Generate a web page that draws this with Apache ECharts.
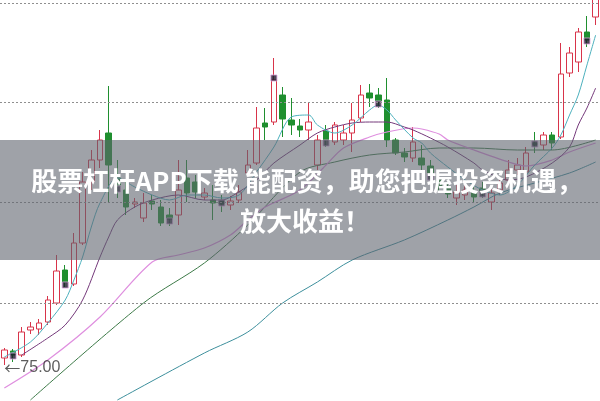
<!DOCTYPE html>
<html><head><meta charset="utf-8">
<script src="https://cdn.jsdelivr.net/npm/echarts@6/dist/echarts.min.js"></script>
<style>html,body{margin:0;padding:0;background:#fff}#c{width:600px;height:401px}</style>
</head><body><div id="c"></div>
<script>
const categories = ['1','2','3','4','5','6','7','8','9','10','11','12','13','14','15','16','17','18','19','20','21','22','23','24','25','26','27','28','29','30','31','32','33','34','35','36','37','38','39','40','41','42','43','44','45','46','47','48','49','50','51','52','53','54','55','56','57','58','59','60','61','62','63','64','65','66','67','68','69'];
// [open, close, low, high]
const ohlc = [
[75.7,76.5,75.0,76.7],[76.4,76.0,75.3,76.6],[76.0,78.3,75.8,78.8],[78.5,78.8,78.1,79.3],[78.6,79.2,78.0,79.6],
[79.3,81.5,79.0,81.9],[81.2,84.4,81.0,86.0],[84.5,83.3,82.8,85.0],[83.1,87.2,82.9,88.2],[87.2,93.3,87.0,94.3],
[93.3,95.5,92.5,96.5],[95.5,97.5,94.7,98.5],[98.2,95.0,91.2,102.9],[93.7,93.0,91.7,95.5],[92.5,90.8,90.0,93.5],
[91.1,91.3,90.7,91.7],[89.7,91.2,89.3,92.2],[91.4,91.1,90.5,92.0],[90.8,89.2,88.9,91.5],[90.0,89.6,88.9,90.7],
[90.0,92.5,89.0,95.5],[93.7,92.2,91.3,95.5],[93.3,92.3,91.7,94.0],[91.8,92.2,91.5,92.7],[91.5,91.2,89.5,93.0],
[91.5,91.1,90.3,92.0],[91.0,91.4,90.5,91.9],[91.5,92.3,91.2,93.0],[94.2,95.0,93.9,96.5],[95.2,98.7,95.0,100.8],
[99.2,98.8,97.5,100.7],[99.3,103.5,99.0,105.7],[102.0,99.6,97.8,102.8],[99.5,99.0,98.0,101.7],[98.9,98.5,97.8,99.6],
[98.5,99.3,97.5,101.3],[95.0,97.5,94.5,98.0],[98.4,97.5,96.8,99.0],[97.3,99.0,97.0,99.3],[97.5,98.2,97.0,99.0],
[98.2,99.5,96.3,101.2],[99.7,102.0,99.3,103.0],[102.2,101.7,100.8,103.1],[102.0,101.4,100.7,102.7],[101.5,97.5,96.8,103.7],
[97.5,96.2,96.0,97.7],[96.2,95.8,95.3,96.7],[95.7,97.3,95.3,98.8],[95.7,95.0,94.5,97.0],[94.9,94.2,93.5,95.5],
[93.5,92.9,92.3,94.0],[92.7,92.1,91.7,93.3],[91.7,92.3,91.0,93.0],[92.0,92.5,91.5,93.0],[92.3,91.8,91.3,92.9],
[92.7,92.3,91.7,93.3],[91.3,92.2,90.5,92.7],[92.5,93.2,92.0,93.7],[93.5,94.5,93.2,95.5],[94.5,95.0,94.0,95.7],
[94.3,96.2,94.0,96.8],[97.2,97.0,96.2,98.3],[97.0,98.0,96.5,98.3],[98.0,97.2,96.5,98.3],[97.8,104.1,97.6,107.2],
[104.2,106.2,103.8,106.8],[105.3,108.3,104.3,108.7],[108.3,107.5,106.8,109.9],[109.8,112.0,109.0,113.0]
];
// moving averages: [candle index, price]
const ma5 = [[0,75.8],[3,77.3],[5,79.2],[7,81.5],[8,83.5],[9,85.8],[10,88.8],[11,91.2],[13,93.7],[15,92.8],[17,92.0],[19,91.5],[21,92.0],[23,92.0],[25,91.7],[27,92.0],[29,94.3],[31,96.8],[33,99.8],[35,100.0],[36,99.0],[38,98.2],[40,99.0],[42,100.5],[43,101.0],[44,100.5],[45,99.5],[47,97.7],[48,97.2],[49,96.2],[51,94.8],[53,93.5],[55,92.5],[57,92.0],[59,93.0],[61,95.0],[63,96.7],[64,98.0],[65,100.0],[66,102.0],[67,105.0],[68,108.0]];
const ma10 = [[2,76.0],[5,77.7],[7,79.0],[9,81.5],[11,85.8],[12,87.8],[13,89.5],[15,90.8],[17,91.5],[20,92.0],[23,91.5],[25,91.5],[26,91.8],[29,93.5],[31,95.2],[34,97.0],[36,98.2],[38,98.8],[40,99.2],[42,99.3],[44,99.3],[46,98.8],[47,98.5],[49,97.7],[51,96.8],[54,95.2],[55,94.5],[58,93.5],[60,93.8],[63,95.2],[65,96.8],[66,99.0],[67,100.7],[68,102.7]];
const ma20 = [[0,72.7],[5,75.5],[11,79.8],[17,85.3],[20,86.0],[23,86.7],[26,88.0],[28,89.5],[30,90.8],[34,92.5],[37,95.0],[39,96.7],[42,97.8],[44,98.3],[47,98.7],[48,98.6],[50,98.1],[51,97.5],[54,96.5],[58,95.3],[60,94.9],[63,95.5],[65,96.3],[68,97.2]];
const ma30 = [[3,71.5],[16,81.2],[23,85.2],[28,89.0],[34,94.3],[38,95.3],[42,96.0],[46,96.3],[50,96.7],[54,96.7],[59,96.5],[63,96.5],[68,97.5]];
const ma60 = [[13,71.5],[23,76.2],[28,78.3],[32,81.2],[36,83.3],[40,85.5],[46,87.5],[51,89.5],[54,90.8],[57,92.2],[61,93.2],[65,94.2],[68,95.3]];
const gridLevels = [111.2, 101.3, 91.3, 81.2];
const markerIdx = [1,7,13,19,25,31,37,43,49,55,61,67];
const markerVal = [75.9,83.0,92.6,89.4,91.2,103.7,97.2,101.1,93.8,92.1,97.1,107.4];

let lowIdx = 0;
ohlc.forEach((d, i) => { if (d[2] < ohlc[lowIdx][2]) lowIdx = i; });

const chart = echarts.init(document.getElementById('c'));
const lineS = (data, color, w) => ({type:'line', data, symbol:'none', smooth:0.3, lineStyle:{color, width:w||1}, z:3, silent:true});
chart.setOption({
  animation:false,
  grid:{left:-1.4, right:-0.3, top:0, bottom:0},
  xAxis:{type:'category', data:categories, boundaryGap:true, show:false},
  yAxis:{type:'value', min:71.4, max:111.5, show:false, splitLine:{show:false}},
  series:[
    {type:'candlestick', data:ohlc, barWidth:6, z:2,
     itemStyle:{color:'#ffffff', color0:'#1f8f2f', borderColor:'#d8344a', borderColor0:'#1f8f2f', borderWidth:1},
     markLine:{silent:true, symbol:'none', label:{show:false}, lineStyle:{color:'#8f8f8f', type:[2,2], width:1},
       data: gridLevels.map(v => ({yAxis:v}))}},
    lineS(ma60, '#3d8f9c'),
    lineS(ma30, '#3d7a48'),
    lineS(ma20, '#df8fdf', 1.2),
    lineS(ma10, '#74387a'),
    lineS(ma5, '#4cb0bd'),
    {type:'scatter', data: markerIdx.map((k, j) => [k, markerVal[j]]), symbol:'rect', symbolSize:[6,6],
     itemStyle:{color:'#1d1a2a', borderColor:'#d9a0d9', borderWidth:1}, z:4, silent:true},
    {type:'scatter', data:[[lowIdx, ohlc[lowIdx][2]]], symbolSize:0, z:5, silent:true,
     label:{show:true, position:[0,0], offset:[0,3], align:'left', verticalAlign:'middle',
       formatter: p => '{a|\u2190}' + p.value[1].toFixed(2), color:'#333', fontSize:16, fontFamily:'Liberation Sans',
       rich:{a:{fontFamily:'Noto Sans CJK SC', fontSize:16, color:'#333'}}}}
  ],
  graphic:[
    {type:'rect', shape:{x:0, y:140, width:600, height:120}, style:{fill:'rgba(95,100,110,0.6)'}, z:100, silent:true},
    {type:'text', x:307, y:181, style:{text:'股票杠杆APP下载 能配资，助您把握投资机遇，', fill:'#fff', font:'bold 26px "Noto Sans CJK SC"', align:'center', verticalAlign:'middle'}, z:101},
    {type:'text', x:305, y:221, style:{text:'放大收益！', fill:'#fff', font:'bold 26px "Noto Sans CJK SC"', align:'center', verticalAlign:'middle'}, z:101}
  ]
});
</script></body></html>
